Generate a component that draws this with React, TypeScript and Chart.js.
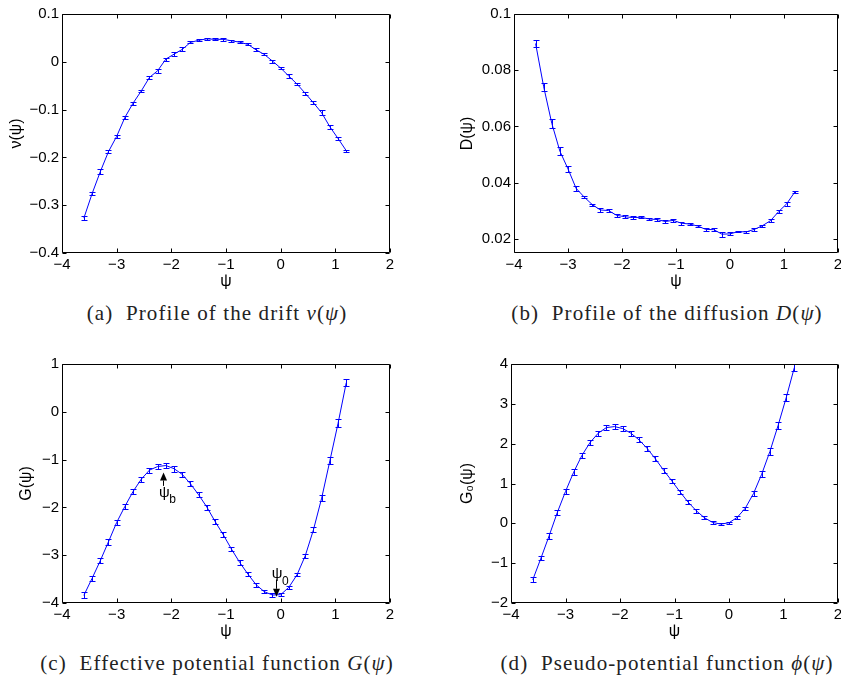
import React, { useEffect, useRef } from "react";
import { Chart, registerables } from "chart.js";
Chart.register(...registerables);

// ---------------- data ----------------
const PSI = [-3.6, -3.45, -3.3, -3.15, -3.0, -2.85, -2.7, -2.55, -2.4, -2.25, -2.1, -1.95, -1.8, -1.65, -1.5, -1.35, -1.2, -1.05, -0.9, -0.75, -0.6, -0.45, -0.3, -0.15, 0, 0.15, 0.3, 0.45, 0.6, 0.75, 0.9, 1.05, 1.2];

const DRIFT = [-0.327, -0.276, -0.23, -0.188, -0.156, -0.1165, -0.0865, -0.061, -0.0327, -0.0187, 0.0057, 0.016, 0.026, 0.0406, 0.045, 0.048, 0.047, 0.047, 0.044, 0.041, 0.0364, 0.025, 0.0155, 0.0015, -0.0131, -0.03, -0.0467, -0.066, -0.0858, -0.1067, -0.136, -0.1605, -0.186];
const DRIFT_ERR = [0.004, 0.003, 0.005, 0.003, 0.003, 0.003, 0.003, 0.003, 0.004, 0.004, 0.003, 0.004, 0.004, 0.002, 0.002, 0.002, 0.002, 0.003, 0.002, 0.002, 0.002, 0.003, 0.002, 0.003, 0.003, 0.004, 0.002, 0.003, 0.003, 0.005, 0.004, 0.004, 0.002];

const DIFFUSION = [0.0895, 0.0741, 0.0611, 0.0512, 0.0449, 0.038, 0.0349, 0.0322, 0.0303, 0.0301, 0.0284, 0.0279, 0.0276, 0.0277, 0.0271, 0.0269, 0.0262, 0.0266, 0.0256, 0.0253, 0.0246, 0.0234, 0.0233, 0.0217, 0.0218, 0.0226, 0.0225, 0.0234, 0.0247, 0.0265, 0.0297, 0.0325, 0.0367];
const DIFFUSION_ERR = [0.0011, 0.0014, 0.0016, 0.0014, 0.0011, 0.0009, 0.0004, 0.0004, 0.0006, 0.0006, 0.0005, 0.0006, 0.0005, 0.0004, 0.0004, 0.0006, 0.0005, 0.0004, 0.0006, 0.0004, 0.0005, 0.0004, 0.0005, 0.0009, 0.0005, 0.0002, 0.0005, 0.0004, 0.0004, 0.0005, 0.0005, 0.0007, 0.0005];

const G_POT = [-3.84, -3.485, -3.116, -2.72, -2.315, -1.98, -1.667, -1.41, -1.22, -1.145, -1.124, -1.19, -1.31, -1.507, -1.737, -1.994, -2.294, -2.572, -2.872, -3.15, -3.394, -3.617, -3.763, -3.833, -3.826, -3.672, -3.408, -3.011, -2.468, -1.806, -1.026, -0.24, 0.61];
const G_POT_ERR = [0.06, 0.05, 0.05, 0.06, 0.05, 0.05, 0.05, 0.05, 0.05, 0.05, 0.06, 0.06, 0.05, 0.05, 0.05, 0.05, 0.05, 0.05, 0.05, 0.05, 0.04, 0.04, 0.03, 0.04, 0.03, 0.03, 0.03, 0.04, 0.05, 0.06, 0.07, 0.08, 0.08];

const G0_POT = [-1.415, -0.872, -0.312, 0.273, 0.8, 1.284, 1.702, 2.028, 2.262, 2.404, 2.429, 2.379, 2.262, 2.095, 1.878, 1.618, 1.334, 1.067, 0.791, 0.532, 0.315, 0.139, 0.022, -0.019, 0.014, 0.148, 0.382, 0.749, 1.234, 1.802, 2.454, 3.156, 3.916];
const G0_POT_ERR = [0.06, 0.06, 0.07, 0.07, 0.07, 0.07, 0.07, 0.06, 0.06, 0.06, 0.07, 0.07, 0.06, 0.06, 0.06, 0.06, 0.06, 0.05, 0.05, 0.05, 0.05, 0.04, 0.03, 0.03, 0.03, 0.04, 0.04, 0.06, 0.07, 0.08, 0.08, 0.09, 0.09];

const X_TICKS = [-4, -3, -2, -1, 0, 1, 2];
const DRIFT_TICKS = [-0.4, -0.3, -0.2, -0.1, 0, 0.1];
const DIFFUSION_TICKS = [0.02, 0.04, 0.06, 0.08, 0.1];
const G_TICKS = [-4, -3, -2, -1, 0, 1];
const G0_TICKS = [-2, -1, 0, 1, 2, 3, 4];

// annotation markers in panel (c)
const PSI_B_MARK = { name: "ψ", sub: "b", x: -2.147, tip: -1.27, tail: -1.55, labelX: -2.13, labelY: -1.70 };
const PSI_0_MARK = { name: "ψ", sub: "0", x: -0.09, tip: -3.87, tail: -3.51, labelX: -0.067, labelY: -3.40 };

// ---------------- helpers ----------------
const FONT = "'Liberation Sans', Arial, Helvetica, sans-serif";
const fmt = (v: number) => {
  const r = Math.round(v * 1000) / 1000;
  return (r < 0 ? "\u2212" : "") + String(Math.abs(r));
};

type Mark = typeof PSI_B_MARK;

interface PanelProps {
  left: number;
  top: number;
  width: number;
  height: number;
  axisWidth: number;
  titlePad: number;
  padRight: number;
  ys: number[];
  errs: number[];
  yMin: number;
  yMax: number;
  yTicks: number[];
  yTitle: string;
  marks?: Mark[];
}

function Panel(p: PanelProps) {
  const ref = useRef<HTMLCanvasElement | null>(null);
  useEffect(() => {
    const canvas = ref.current;
    if (!canvas) return;
    const matlab = {
      id: "matlabStyle",
      afterDatasetsDraw(chart: any) {
        const { ctx, chartArea: a, scales } = chart;
        const xs = scales.x;
        const ysc = scales.y;
        ctx.save();
        ctx.beginPath();
        ctx.rect(a.left, a.top - 0.5, a.right - a.left, a.bottom - a.top + 1);
        ctx.clip();
        ctx.strokeStyle = "#0000ff";
        ctx.lineWidth = 1;
        PSI.forEach((xv, i) => {
          const px = Math.round(xs.getPixelForValue(xv)) + 0.5;
          const y1 = Math.round(ysc.getPixelForValue(p.ys[i] - p.errs[i])) + 0.5;
          const y2 = Math.round(ysc.getPixelForValue(p.ys[i] + p.errs[i])) + 0.5;
          ctx.beginPath();
          ctx.moveTo(px, y1);
          ctx.lineTo(px, y2);
          ctx.moveTo(px - 3, y1);
          ctx.lineTo(px + 3, y1);
          ctx.moveTo(px - 3, y2);
          ctx.lineTo(px + 3, y2);
          ctx.stroke();
        });
        ctx.restore();

        // box + inward ticks
        ctx.save();
        ctx.strokeStyle = "#000";
        ctx.lineWidth = 1;
        const L = Math.round(a.left) + 0.5;
        const R = Math.round(a.right) - 0.5;
        const T = Math.round(a.top) + 0.5;
        const B = Math.round(a.bottom) - 0.5;
        ctx.beginPath();
        ctx.rect(L, T, R - L, B - T);
        const tl = 4;
        X_TICKS.forEach((v) => {
          const px = Math.round(xs.getPixelForValue(v)) + 0.5;
          ctx.moveTo(px, B);
          ctx.lineTo(px, B - tl);
          ctx.moveTo(px, T);
          ctx.lineTo(px, T + tl);
        });
        p.yTicks.forEach((v) => {
          const py = Math.round(ysc.getPixelForValue(v)) + 0.5;
          ctx.moveTo(L, py);
          ctx.lineTo(L + tl, py);
          ctx.moveTo(R, py);
          ctx.lineTo(R - tl, py);
        });
        ctx.stroke();

        // annotations
        (p.marks || []).forEach((m) => {
          const ax = Math.round(xs.getPixelForValue(m.x)) + 0.5;
          const tipY = ysc.getPixelForValue(m.tip);
          const tailY = ysc.getPixelForValue(m.tail);
          const dir = tipY < tailY ? -1 : 1;
          const headLen = 8;
          const headW = 3.5;
          ctx.strokeStyle = "#000";
          ctx.fillStyle = "#000";
          ctx.beginPath();
          ctx.moveTo(ax, tailY);
          ctx.lineTo(ax, tipY - dir * headLen);
          ctx.stroke();
          ctx.beginPath();
          ctx.moveTo(ax, tipY);
          ctx.lineTo(ax - headW, tipY - dir * headLen);
          ctx.lineTo(ax + headW, tipY - dir * headLen);
          ctx.closePath();
          ctx.fill();
          const lx = xs.getPixelForValue(m.labelX);
          const ly = ysc.getPixelForValue(m.labelY);
          ctx.font = `15px ${FONT}`;
          ctx.textAlign = "center";
          ctx.textBaseline = "middle";
          ctx.fillText(m.name, lx, ly);
          ctx.font = `12px ${FONT}`;
          ctx.textAlign = "left";
          ctx.fillText(m.sub, lx + 5, ly + 7);
        });
        ctx.restore();
      },
    };

    const chart = new Chart(canvas, {
      type: "line",
      data: {
        datasets: [
          {
            data: PSI.map((x, i) => ({ x, y: p.ys[i] })),
            borderColor: "#0000ff",
            borderWidth: 1,
            pointRadius: 0,
            tension: 0,
            fill: false,
          },
        ],
      },
      options: {
        animation: false,
        responsive: false,
        devicePixelRatio: 1,
        events: [],
        layout: { padding: { left: 0, right: p.padRight, top: 14, bottom: 9 } },
        plugins: { legend: { display: false }, tooltip: { enabled: false } },
        scales: {
          x: {
            type: "linear",
            min: -4,
            max: 2,
            grid: { display: false, drawTicks: false },
            border: { display: false },
            afterBuildTicks: (s: any) => {
              s.ticks = X_TICKS.map((v) => ({ value: v }));
            },
            afterFit: (s: any) => {
              s.height = 38;
            },
            ticks: {
              maxRotation: 0,
              autoSkip: false,
              padding: 3,
              color: "#000",
              font: { family: FONT, size: 15 },
              callback: (v: any) => fmt(Number(v)),
            },
            title: {
              display: true,
              text: "ψ",
              color: "#000",
              font: { family: FONT, size: 16 },
              padding: { top: 0, bottom: 0 },
            },
          },
          y: {
            type: "linear",
            min: p.yMin,
            max: p.yMax,
            grid: { display: false, drawTicks: false },
            border: { display: false },
            afterBuildTicks: (s: any) => {
              s.ticks = p.yTicks.map((v) => ({ value: v }));
            },
            afterFit: (s: any) => {
              s.width = p.axisWidth;
            },
            ticks: {
              autoSkip: false,
              padding: 3,
              color: "#000",
              font: { family: FONT, size: 15 },
              callback: (v: any) => fmt(Number(v)),
            },
            title: {
              display: true,
              text: p.yTitle,
              color: "#000",
              font: { family: FONT, size: 16 },
              padding: { top: p.titlePad, bottom: 0 },
            },
          },
        },
      } as any,
      plugins: [matlab],
    });
    return () => chart.destroy();
  }, []);
  return (
    <canvas
      ref={ref}
      width={p.width}
      height={p.height}
      style={{ position: "absolute", left: p.left, top: p.top, width: p.width, height: p.height }}
    />
  );
}

const captionStyle = (cx: number, cy: number): React.CSSProperties => ({
  position: "absolute",
  left: cx,
  top: cy,
  transform: "translate(-50%, -50%)",
  whiteSpace: "nowrap",
  fontFamily: "'Liberation Serif', 'Times New Roman', serif",
  fontSize: 21,
  letterSpacing: "1.1px",
  lineHeight: "24px",
  color: "#222",
});

export default function App() {
  return (
    <div
      style={{
        position: "absolute",
        left: 0,
        top: 0,
        width: 841,
        height: 676,
        overflow: "hidden",
        background: "#fff",
      }}
    >
      <Panel left={0} top={0} width={420} height={300} axisWidth={62} titlePad={7} padRight={30}
        ys={DRIFT} errs={DRIFT_ERR} yMin={-0.4} yMax={0.1} yTicks={DRIFT_TICKS} yTitle="ν(ψ)" />
      <Panel left={420} top={0} width={440} height={300} axisWidth={94} titlePad={38} padRight={22}
        ys={DIFFUSION} errs={DIFFUSION_ERR} yMin={0.015} yMax={0.1} yTicks={DIFFUSION_TICKS} yTitle="D(ψ)" />
      <Panel left={0} top={350} width={420} height={300} axisWidth={62} titlePad={17} padRight={30}
        ys={G_POT} errs={G_POT_ERR} yMin={-4} yMax={1} yTicks={G_TICKS} yTitle="G(ψ)"
        marks={[PSI_B_MARK, PSI_0_MARK]} />
      <Panel left={420} top={350} width={440} height={300} axisWidth={91} titlePad={38} padRight={22}
        ys={G0_POT} errs={G0_POT_ERR} yMin={-2} yMax={4} yTicks={G0_TICKS} yTitle="G₀(ψ)" />

      <div style={captionStyle(217, 313)}>(a)&nbsp; Profile of the drift <i>ν</i>(<i>ψ</i>)</div>
      <div style={captionStyle(667, 313)}>(b)&nbsp; Profile of the diffusion <i>D</i>(<i>ψ</i>)</div>
      <div style={captionStyle(217, 663)}>(c)&nbsp; Effective potential function <i>G</i>(<i>ψ</i>)</div>
      <div style={captionStyle(667, 663)}>(d)&nbsp; Pseudo-potential function <i>ϕ</i>(<i>ψ</i>)</div>
    </div>
  );
}
